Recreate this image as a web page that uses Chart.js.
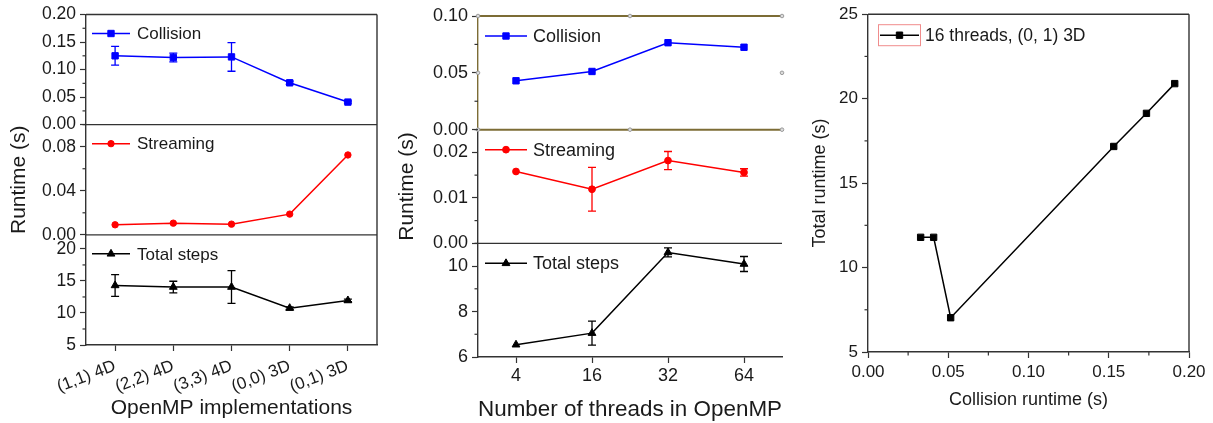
<!DOCTYPE html>
<html>
<head>
<meta charset="utf-8">
<script src="https://cdn.jsdelivr.net/npm/chart.js@4.4.1/dist/chart.umd.min.js"></script>
<style>
  html, body { margin: 0; padding: 0; background: #fff; }
  body { width: 1213px; height: 423px; position: relative; overflow: hidden; }
  canvas { position: absolute; top: 0; }
  #c1 { left: 0; }
  #c2 { left: 390px; }
  #c3 { left: 790px; }
</style>
</head>
<body>
<canvas id="c1" width="400" height="423"></canvas>
<canvas id="c2" width="410" height="423"></canvas>
<canvas id="c3" width="423" height="423"></canvas>
<script>
// left panel: OpenMP implementations
const implLabels = ['(1,1) 4D', '(2,2) 4D', '(3,3) 4D', '(0,0) 3D', '(0,1) 3D'];
const implCollision = [0.125, 0.122, 0.123, 0.076, 0.041];
const implCollisionErr = [0.017, 0.008, 0.026, 0.003, 0.002];
const implStreaming = [0.0091, 0.0106, 0.0097, 0.0188, 0.0725];
const implStreamingErr = [0, 0, 0, 0, 0];
const implTotal = [14.3, 14.05, 14.05, 10.75, 11.95];
const implTotalErr = [1.7, 0.9, 2.55, 0.2, 0.2];
const implCollisionTicks = [0, 0.05, 0.10, 0.15, 0.20];
const implStreamingTicks = [0, 0.04, 0.08];
const implTotalTicks = [5, 10, 15, 20];

// middle panel: number of threads
const threadLabels = ['4', '16', '32', '64'];
const threadCollision = [0.043, 0.0512, 0.0765, 0.0725];
const threadCollisionErr = [0, 0, 0, 0];
const threadStreaming = [0.0158, 0.0119, 0.0182, 0.0156];
const threadStreamingErr = [0, 0.0048, 0.002, 0.0008];
const threadTotal = [6.54, 7.05, 10.6, 10.09];
const threadTotalErr = [0, 0.53, 0.2, 0.33];
const threadCollisionTicks = [0, 0.05, 0.10];
const threadStreamingTicks = [0, 0.01, 0.02];
const threadTotalTicks = [6, 8, 10];

// right panel: collision runtime vs total runtime
const scanCollision = [0.0328, 0.0409, 0.0515, 0.1531, 0.1735, 0.1911];
const scanTotal = [11.79, 11.79, 7.03, 17.17, 19.13, 20.89];
const scanXTicks = [0, 0.05, 0.10, 0.15, 0.20];
const scanYTicks = [5, 10, 15, 20, 25];

const FONT = "'Liberation Sans', Arial, sans-serif";
const TEXT = '#1a1a1a';
const AXIS = '#333333';
const OLIVE = '#7c6c35';
const BLUE = '#0000ff', RED = '#ff0000', BLACK = '#000000';

Chart.defaults.font.family = FONT;
Chart.defaults.color = TEXT;

function drawMarker(ctx, style, x, y, r, color) {
  ctx.save();
  ctx.fillStyle = color;
  ctx.strokeStyle = color;
  ctx.lineWidth = 1;
  ctx.beginPath();
  if (style === 'rect') {
    const s = r * Math.SQRT1_2;
    ctx.rect(x - s, y - s, 2 * s, 2 * s);
  } else if (style === 'triangle') {
    let a = 0;
    ctx.moveTo(x + Math.sin(a) * r, y - Math.cos(a) * r);
    a += 2 * Math.PI / 3;
    ctx.lineTo(x + Math.sin(a) * r, y - Math.cos(a) * r);
    a += 2 * Math.PI / 3;
    ctx.lineTo(x + Math.sin(a) * r, y - Math.cos(a) * r);
    ctx.closePath();
  } else {
    ctx.arc(x, y, r, 0, Math.PI * 2);
  }
  ctx.fill();
  ctx.stroke();
  ctx.restore();
}

const errorBars = {
  id: 'errorBars',
  afterDatasetsDraw(chart) {
    const ctx = chart.ctx;
    chart.data.datasets.forEach((ds, i) => {
      if (!ds.errors) return;
      const meta = chart.getDatasetMeta(i);
      const yScale = chart.scales[meta.yAxisID];
      ctx.save();
      ctx.strokeStyle = ds.borderColor;
      ctx.lineWidth = 1.3;
      meta.data.forEach((pt, j) => {
        const e = ds.errors[j];
        if (!e) return;
        const top = yScale.getPixelForValue(ds.data[j] + e);
        const bot = yScale.getPixelForValue(ds.data[j] - e);
        ctx.beginPath();
        ctx.moveTo(pt.x, top); ctx.lineTo(pt.x, bot);
        ctx.moveTo(pt.x - 4, top); ctx.lineTo(pt.x + 4, top);
        ctx.moveTo(pt.x - 4, bot); ctx.lineTo(pt.x + 4, bot);
        ctx.stroke();
      });
      ctx.restore();
    });
  }
};

// legend entry drawn inside each sub-panel (line + marker + label)
function inLegend(o) {
  return {
    id: 'inLegend',
    afterDraw(chart) {
      const ctx = chart.ctx;
      const area = chart.chartArea;
      chart.data.datasets.forEach((ds, i) => {
        const meta = chart.getDatasetMeta(i);
        const yScale = chart.scales[meta.yAxisID];
        const x0 = area.left + o.dx;
        const y0 = yScale.top + o.dy;
        ctx.save();
        if (o.box) {
          ctx.strokeStyle = o.box;
          ctx.lineWidth = 1;
          ctx.strokeRect(x0 - 1.5, y0 - 10.5, o.len + 3, 21);
        }
        ctx.strokeStyle = ds.borderColor;
        ctx.lineWidth = 1.5;
        ctx.beginPath();
        ctx.moveTo(x0, y0);
        ctx.lineTo(x0 + o.len, y0);
        ctx.stroke();
        drawMarker(ctx, ds.pointStyle, x0 + o.len / 2, y0, ds.pointRadius, ds.borderColor);
        ctx.fillStyle = TEXT;
        ctx.font = o.size + 'px ' + FONT;
        ctx.textBaseline = 'middle';
        ctx.textAlign = 'left';
        ctx.fillText(ds.label, x0 + o.len + o.gap, y0 + 1);
        ctx.restore();
      });
    }
  };
}

// frame lines, separators between stacked panels, selection handles
function panelFrame(o) {
  return {
    id: 'panelFrame',
    afterDraw(chart) {
      const ctx = chart.ctx;
      const {left, right, top, bottom} = chart.chartArea;
      const line = (x1, y1, x2, y2, color, w) => {
        ctx.strokeStyle = color;
        ctx.lineWidth = w || 1.4;
        ctx.beginPath();
        ctx.moveTo(x1, y1);
        ctx.lineTo(x2, y2);
        ctx.stroke();
      };
      ctx.save();
      (o.separators || []).forEach(s => {
        const sc = chart.scales[s.id];
        line(left, sc.bottom, right, sc.bottom, s.color, s.width);
      });
      if (o.top) line(left, top, right, top, o.top, o.topWidth);
      if (o.right) line(right, top, right, bottom, o.right);
      if (o.handles) {
        const sc = chart.scales[o.handles];
        const mx = (left + right) / 2, my = (sc.top + sc.bottom) / 2;
        [[left, sc.top], [mx, sc.top], [right, sc.top], [left, my], [right, my],
         [left, sc.bottom], [mx, sc.bottom], [right, sc.bottom]].forEach(([hx, hy]) => {
          ctx.fillStyle = '#dcdcdc';
          ctx.strokeStyle = '#9a9a9a';
          ctx.lineWidth = 1;
          ctx.beginPath();
          ctx.arc(hx, hy, 1.8, 0, Math.PI * 2);
          ctx.fill();
          ctx.stroke();
        });
      }
      ctx.restore();
    }
  };
}

// short unlabelled ticks between the labelled ones
function minorTicks(list) {
  return {
    id: 'minorTicks',
    afterDraw(chart) {
      const ctx = chart.ctx;
      ctx.save();
      ctx.strokeStyle = AXIS;
      ctx.lineWidth = 1.2;
      list.forEach(({id, step}) => {
        const sc = chart.scales[id];
        const majors = sc.ticks.map(t => t.value);
        const start = Math.ceil(sc.min / step - 1e-9);
        const end = Math.floor(sc.max / step + 1e-9);
        for (let k = start; k <= end; k++) {
          const v = k * step;
          if (majors.some(m => Math.abs(m - v) < step * 1e-3)) continue;
          const p = sc.getPixelForValue(v);
          ctx.beginPath();
          if (sc.isHorizontal()) {
            ctx.moveTo(p, sc.top); ctx.lineTo(p, sc.top + 3.5);
          } else {
            ctx.moveTo(sc.right, p); ctx.lineTo(sc.right - 3.5, p);
          }
          ctx.stroke();
        }
      });
      ctx.restore();
    }
  };
}

function series(label, data, errors, color, style, radius, yAxisID) {
  return {
    label, data, errors, yAxisID,
    borderColor: color, backgroundColor: color,
    borderWidth: 1.5, pointStyle: style, pointRadius: radius,
    pointBorderWidth: 1, tension: 0
  };
}

function fmt(dec) {
  return v => Number(v).toFixed(dec);
}

function yStacked(min, max, tickValues, dec, width, size, title, titlePad, borderColor) {
  return {
    type: 'linear', position: 'left', stack: 'runtime', stackWeight: 1,
    min, max,
    afterBuildTicks: sc => { sc.ticks = tickValues.map(v => ({ value: v })); },
    afterFit: sc => { sc.width = width; },
    grid: { drawOnChartArea: false, tickLength: 6, tickColor: AXIS, tickWidth: 1.2 },
    border: { color: borderColor || AXIS, width: 1.4 },
    ticks: { font: { size }, color: TEXT, padding: 4, autoSkip: false, callback: fmt(dec) },
    title: { display: !!title, text: title || '', font: { size: 21 }, color: TEXT, padding: titlePad || 0 }
  };
}

function xCategory(title, height, tickSize, titleSize, rotation, tickPad, titlePad) {
  return {
    type: 'category', offset: true,
    afterFit: sc => { sc.height = height; },
    grid: { drawOnChartArea: false, offset: false, tickLength: 6, tickColor: AXIS, tickWidth: 1.2 },
    border: { color: AXIS, width: 1.4 },
    ticks: { font: { size: tickSize }, color: TEXT, minRotation: rotation, maxRotation: rotation, padding: tickPad, autoSkip: false },
    title: { display: true, text: title, font: { size: titleSize }, color: TEXT, padding: titlePad }
  };
}

const baseOptions = {
  responsive: false,
  animation: false,
  devicePixelRatio: 1,
  plugins: { legend: { display: false }, tooltip: { enabled: false } }
};

new Chart(document.getElementById('c1'), {
  type: 'line',
  data: {
    labels: implLabels,
    datasets: [
      series('Collision', implCollision, implCollisionErr, BLUE, 'rect', 4.5, 'yColl'),
      series('Streaming', implStreaming, implStreamingErr, RED, 'circle', 3.2, 'yStream'),
      series('Total steps', implTotal, implTotalErr, BLACK, 'triangle', 4.5, 'yTotal')
    ]
  },
  options: {
    ...baseOptions,
    layout: { padding: { top: 14, right: 23, left: 0, bottom: 0 } },
    scales: {
      x: xCategory('OpenMP implementations', 78, 17, 21, 21, 5, 2),
      yTotal: yStacked(5, 22.2, implTotalTicks, 0, 86, 17.5),
      yStream: yStacked(0, 0.1, implStreamingTicks, 2, 86, 17.5, 'Runtime (s)', 7),
      yColl: yStacked(0, 0.2, implCollisionTicks, 2, 86, 17.5)
    }
  },
  plugins: [
    errorBars,
    panelFrame({ top: AXIS, right: AXIS, separators: [{ id: 'yColl', color: AXIS }, { id: 'yStream', color: AXIS }] }),
    minorTicks([{ id: 'yColl', step: 0.025 }, { id: 'yStream', step: 0.02 }, { id: 'yTotal', step: 2.5 }]),
    inLegend({ dx: 6, dy: 19, len: 38, gap: 7, size: 17 })
  ]
});

new Chart(document.getElementById('c2'), {
  type: 'line',
  data: {
    labels: threadLabels,
    datasets: [
      series('Collision', threadCollision, threadCollisionErr, BLUE, 'rect', 4.5, 'yColl'),
      series('Streaming', threadStreaming, threadStreamingErr, RED, 'circle', 3.4, 'yStream'),
      series('Total steps', threadTotal, threadTotalErr, BLACK, 'triangle', 4.5, 'yTotal')
    ]
  },
  options: {
    ...baseOptions,
    layout: { padding: { top: 16, right: 18, left: 0, bottom: 0 } },
    scales: {
      x: xCategory('Number of threads in OpenMP', 66, 18, 22.5, 0, 2, 0),
      yTotal: yStacked(6, 11, threadTotalTicks, 0, 88, 18),
      yStream: yStacked(0, 0.025, threadStreamingTicks, 2, 88, 18, 'Runtime (s)', 5),
      yColl: yStacked(0, 0.1, threadCollisionTicks, 2, 88, 18, null, 0, OLIVE)
    }
  },
  plugins: [
    errorBars,
    panelFrame({ top: OLIVE, topWidth: 2, separators: [{ id: 'yColl', color: OLIVE, width: 2 }, { id: 'yStream', color: AXIS }], handles: 'yColl' }),
    minorTicks([{ id: 'yColl', step: 0.025 }, { id: 'yStream', step: 0.005 }, { id: 'yTotal', step: 1 }]),
    inLegend({ dx: 7, dy: 20, len: 42, gap: 6, size: 18 })
  ]
});

new Chart(document.getElementById('c3'), {
  type: 'scatter',
  data: {
    datasets: [{
      label: '16 threads, (0, 1) 3D',
      data: scanCollision.map((x, i) => ({ x, y: scanTotal[i] })),
      showLine: true,
      borderColor: BLACK, backgroundColor: BLACK,
      borderWidth: 1.5, pointStyle: 'rect', pointRadius: 4.5, pointBorderWidth: 1,
      yAxisID: 'y'
    }]
  },
  options: {
    ...baseOptions,
    layout: { padding: { top: 12, right: 24, left: 0, bottom: 0 } },
    scales: {
      x: {
        type: 'linear', min: 0, max: 0.2,
        afterBuildTicks: sc => { sc.ticks = scanXTicks.map(v => ({ value: v })); },
        afterFit: sc => { sc.height = 71; },
        grid: { drawOnChartArea: false, tickLength: 6, tickColor: AXIS, tickWidth: 1.2 },
        border: { color: AXIS, width: 1.4 },
        ticks: { font: { size: 17 }, color: TEXT, padding: 4, autoSkip: false, maxRotation: 0, callback: fmt(2) },
        title: { display: true, text: 'Collision runtime (s)', font: { size: 18 }, color: TEXT, padding: 12 }
      },
      y: {
        type: 'linear', min: 5, max: 25,
        afterBuildTicks: sc => { sc.ticks = scanYTicks.map(v => ({ value: v })); },
        afterFit: sc => { sc.width = 78; },
        grid: { drawOnChartArea: false, tickLength: 6, tickColor: AXIS, tickWidth: 1.2 },
        border: { color: AXIS, width: 1.4 },
        ticks: { font: { size: 17 }, color: TEXT, padding: 4, autoSkip: false, callback: fmt(0) },
        title: { display: true, text: 'Total runtime (s)', font: { size: 18 }, color: TEXT, padding: 19 }
      }
    }
  },
  plugins: [
    panelFrame({ top: AXIS, right: AXIS }),
    minorTicks([{ id: 'x', step: 0.025 }, { id: 'y', step: 2.5 }]),
    inLegend({ dx: 12, dy: 21, len: 39, gap: 6, size: 17.5, box: '#f08c8c' })
  ]
});
</script>
</body>
</html>
